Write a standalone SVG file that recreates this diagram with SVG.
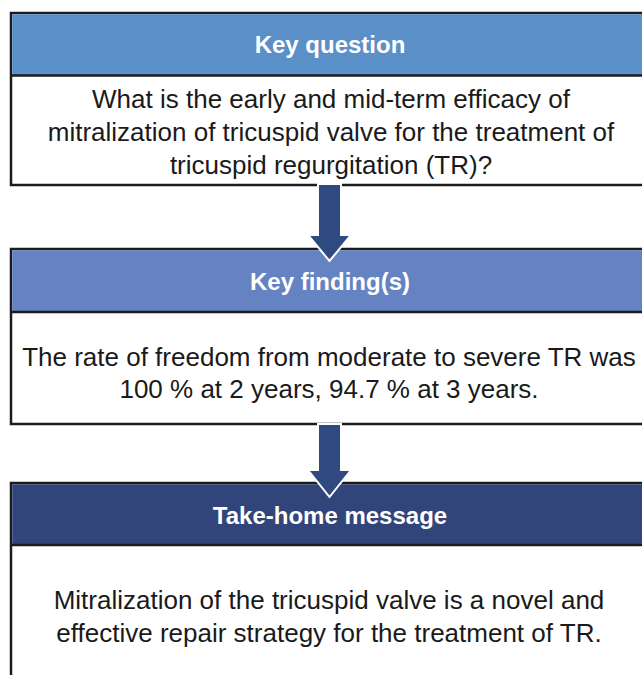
<svg xmlns="http://www.w3.org/2000/svg" width="642" height="675" viewBox="0 0 642 675">
  <style>
    .box { fill: #ffffff; stroke: #1c1c1c; stroke-width: 2.5; }
    .sep { stroke: #1c1c1c; stroke-width: 2.5; }
    .title { font-family: "Liberation Sans", Arial, sans-serif; font-size: 24px; font-weight: bold; fill: #ffffff; text-anchor: middle; }
    .body { font-family: "Liberation Sans", Arial, sans-serif; font-size: 26px; fill: #1a1a1a; text-anchor: middle; }
    .arrow { fill: #2f4a80; stroke: #ffffff; stroke-width: 2; stroke-linejoin: miter; }
  </style>
  <rect width="642" height="675" fill="#ffffff"/>

  <g id="key-question">
    <rect class="box" x="11" y="13" width="645" height="172"/>
    <rect x="12.25" y="14.25" width="642" height="61" fill="#5a8fc8"/>
    <line class="sep" x1="11" y1="75.5" x2="656" y2="75.5"/>
    <text class="title" x="330" y="53">Key question</text>
    <text class="body" x="331" y="108">What is the early and mid-term efficacy of</text>
    <text class="body" x="331" y="141">mitralization of tricuspid valve for the treatment of</text>
    <text class="body" x="331" y="174">tricuspid regurgitation (TR)?</text>
  </g>

  <g id="key-findings">
    <rect class="box" x="11" y="249" width="645" height="175"/>
    <rect x="12.25" y="250.25" width="642" height="61" fill="#6583c3"/>
    <line class="sep" x1="11" y1="312" x2="656" y2="312"/>
    <text class="title" x="330" y="290">Key finding(s)</text>
    <text class="body" x="329" y="366">The rate of freedom from moderate to severe TR was</text>
    <text class="body" x="329" y="398">100 % at 2 years, 94.7 % at 3 years.</text>
  </g>

  <g id="take-home">
    <rect class="box" x="11" y="483" width="645" height="220"/>
    <rect x="12.25" y="484.25" width="642" height="60" fill="#32457a"/>
    <line class="sep" x1="11" y1="545" x2="656" y2="545"/>
    <text class="title" x="330" y="524">Take-home message</text>
    <text class="body" x="329" y="609">Mitralization of the tricuspid valve is a novel and</text>
    <text class="body" x="329" y="642">effective repair strategy for the treatment of TR.</text>
  </g>

  <g id="connectors">
    <polygon class="arrow" points="318,184 341,184 341,235 351,235 329.5,261 308,235 318,235"/>
    <polygon class="arrow" points="318,424 341,424 341,470 351,470 329.5,497 308,470 318,470"/>
  </g>
</svg>
